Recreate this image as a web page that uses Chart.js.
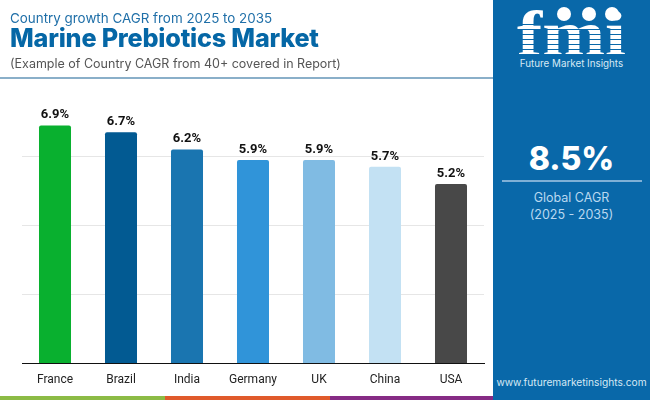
<!DOCTYPE html>
<html>
<head>
<meta charset="utf-8">
<script src="https://cdn.jsdelivr.net/npm/chart.js@4"></script>
<style>
  html, body { margin: 0; padding: 0; background: #fff; }
  #page { position: relative; width: 650px; height: 400px; overflow: hidden; font-family: Inter, "Open Sans", sans-serif; }
  #page div { position: absolute; white-space: nowrap; }
  #wrap { left: 0; top: 0; width: 493px; height: 394px; }
  .sub { left: 10px; top: 9.5px; font-size: 13.4px; color: #1f6fa8; }
  .title { left: 10px; top: 23px; font-size: 25.2px; font-weight: 800; color: #0567a6; letter-spacing: -0.2px; }
  .note { left: 10px; top: 56px; font-size: 12.5px; color: #555; }
  .rule { left: 0; top: 76.5px; width: 493px; height: 2px; background: #8aafc9; }
  .panel { left: 493px; top: 0; width: 157px; height: 400px; background: #0968a9; }
  .logo { left: 517px; top: -4px; font-family: "Liberation Serif", serif; font-weight: 700; font-size: 64px; line-height: 76px; color: #fff; transform: scaleX(1.18); transform-origin: left top; }
  .stripes { left: 517px; top: 20px; width: 112px; height: 38px; background: repeating-linear-gradient(#0000 0 4px, #0968a9 4px 5px); }
  .globe { top: 7px; width: 14px; height: 14px; border-radius: 50%; background: #fff; }
  .brand { left: 493px; width: 157px; top: 58px; text-align: center; font-size: 9.8px; color: #d6e8f5; }
  .cagr { left: 493px; width: 157px; top: 139px; text-align: center; font-size: 32px; font-weight: 800; color: #fff; }
  .sep { left: 502px; top: 180px; width: 140px; height: 2px; background: #7fb0d6; }
  .lab { left: 493px; width: 157px; top: 189px; text-align: center; font-size: 12.5px; line-height: 17px; color: #b9d8f0; white-space: normal !important; }
  .url { left: 493px; width: 157px; top: 376px; text-align: center; font-size: 10.2px; color: #d6e8f5; }
  .foot { top: 396px; height: 4px; width: 165px; }
</style>
</head>
<body>
<div id="page">
  <div id="wrap"><canvas id="chart"></canvas></div>
  <div class="sub">Country growth CAGR from 2025 to 2035</div>
  <div class="title">Marine Prebiotics Market</div>
  <div class="note">(Example of Country CAGR from 40+ covered in Report)</div>
  <div class="rule"></div>
  <div class="panel"></div>
  <div class="logo">fmi</div>
  <div class="stripes"></div>
  <div class="globe" style="left:557px"></div>
  <div class="globe" style="left:582px"></div>
  <div class="globe" style="left:605px"></div>
  <div class="brand">Future Market Insights</div>
  <div class="cagr">8.5%</div>
  <div class="sep"></div>
  <div class="lab">Global CAGR<br>(2025 - 2035)</div>
  <div class="url">www.futuremarketinsights.com</div>
  <div class="foot" style="left:0;background:#8cbb45"></div>
  <div class="foot" style="left:165px;background:#e05a2b"></div>
  <div class="foot" style="left:330px;width:163px;background:#862b85"></div>
</div>
<script>
const categories = ["France", "Brazil", "India", "Germany", "UK", "China", "USA"]
const cagrValues = [6.9, 6.7, 6.2, 5.9, 5.9, 5.7, 5.2]
const barColors = ["#09b02f", "#025a92", "#1a75b0", "#3094d9", "#80bbe3", "#c3e1f3", "#484848"]

// prints the % labels above each bar
const valueLabels = {
  id: "valueLabels",
  afterDatasetsDraw(chart) {
    const { ctx } = chart
    ctx.save()
    ctx.font = "700 13px Roboto, sans-serif"
    ctx.fillStyle = "#111"
    ctx.textAlign = "center"
    ctx.textBaseline = "bottom"
    chart.getDatasetMeta(0).data.forEach((bar, i) => {
      ctx.fillText(cagrValues[i].toFixed(1) + "%", bar.x, bar.y - 4)
    })
    ctx.restore()
  }
}

new Chart(document.getElementById("chart"), {
  type: "bar",
  data: {
    labels: categories,
    datasets: [{
      data: cagrValues,
      backgroundColor: barColors,
      borderRadius: { topLeft: 2, topRight: 2 },
      borderSkipped: "bottom",
      barPercentage: 0.485,
      categoryPercentage: 1
    }]
  },
  options: {
    responsive: true,
    maintainAspectRatio: false,
    animation: false,
    layout: { padding: { left: 22, right: 9, top: 87.5, bottom: 0 } },
    plugins: {
      legend: { display: false },
      tooltip: { enabled: false }
    },
    scales: {
      x: {
        afterFit(axis) { axis.height = 30.5 },
        grid: { display: false },
        border: { color: "#111", width: 1 },
        ticks: { color: "#222", padding: 1, font: { size: 12, family: "Roboto, sans-serif" } }
      },
      y: {
        min: 0,
        max: 8,
        afterFit(axis) { axis.width = 0 },
        // the top line at 8 is not drawn in the reference
        grid: {
          color: ctx => ctx.tick.value === 8 ? "rgba(0,0,0,0)" : "#e6e6e6",
          lineWidth: 1,
          drawTicks: false
        },
        border: { display: false },
        ticks: { stepSize: 2, display: false }
      }
    }
  },
  plugins: [valueLabels]
})
</script>
</body>
</html>
